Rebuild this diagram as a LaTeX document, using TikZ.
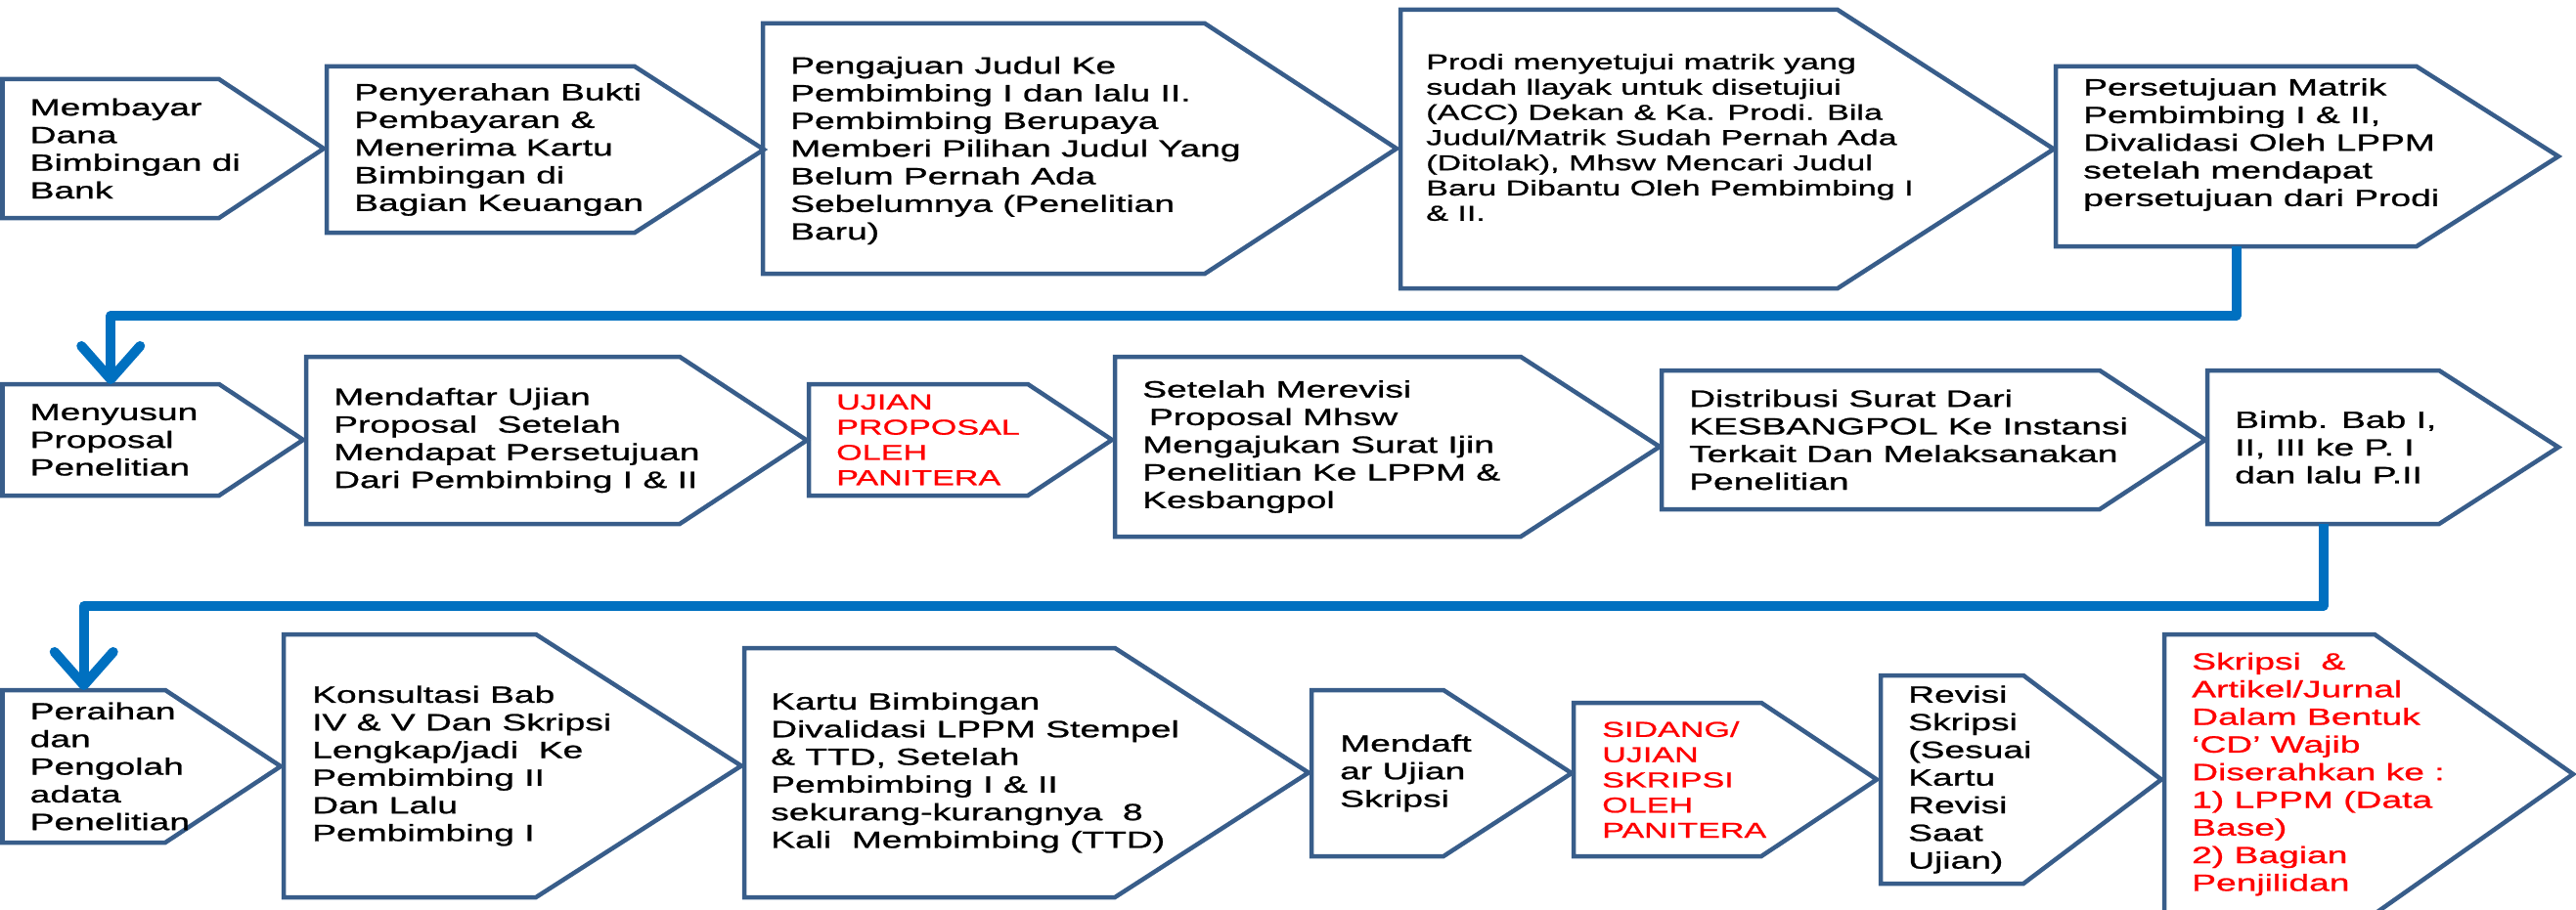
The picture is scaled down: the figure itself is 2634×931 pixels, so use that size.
\documentclass[tikz,border=0pt]{standalone}
\usepackage{fontspec}
\setmainfont{Liberation Sans}[FakeStretch=1.55, FakeBold=1]
\usepackage{tikz}
\usetikzlibrary{arrows.meta}
\definecolor{edgeblue}{RGB}{56,93,138}
\definecolor{flowblue}{RGB}{0,112,192}
\tikzset{>={Straight Barb[length=34pt,width=60pt,round]}}
\tikzset{
  body/.style={inner sep=0pt, outer sep=0pt},
  outline/.style={draw=edgeblue, line width=4.5pt, line join=miter},
  txt/.style={inner sep=0pt, align=left, font=\fontsize{24}{28.3}\selectfont},
  smalltxt/.style={txt, font=\fontsize{22}{25.8}\selectfont},
  redtxt/.style={text={rgb,255:red,255;green,0;blue,0}},
  flow/.style={draw=flowblue, line width=10pt, line join=round, ->}
}

\begin{document}
\begin{tikzpicture}[x=1pt, y=-1pt]
  \useasboundingbox (0,0) rectangle (2634,931);

  % name, left, top, bottom, notch, tip
  \newcommand\Chev[6]{%
    \node[body, anchor=north west, minimum width={(#5-#2)*1pt},
      minimum height={(#4-#3)*1pt}] (#1) at (#2,#3) {};
    \draw[outline] (#1.north west) -- (#1.north east) -- (#6,{(#3+#4)/2})
      -- (#1.south east) -- (#1.south west) -- cycle;
  }

  % row 1
  \Chev{s1}{2.5}{81}{223}{224}{331}
  \Chev{s2}{334}{68}{238}{649}{781}
  \Chev{s3}{780}{24}{280}{1232}{1428}
  \Chev{s4}{1432}{10}{295}{1879}{2100}
  \Chev{s5}{2102}{68}{252}{2471}{2616}

  \node[txt, anchor=west] (t1) at ([xshift=28pt]s1.west)
    {Membayar\\Dana\\Bimbingan di\\Bank};
  \node[txt, anchor=west] (t2) at ([xshift=28pt]s2.west)
    {Penyerahan Bukti\\Pembayaran \&\\Menerima Kartu\\Bimbingan di\\Bagian Keuangan};
  \node[txt, anchor=west] (t3) at ([xshift=28pt, yshift=-2pt]s3.west)
    {Pengajuan Judul Ke\\Pembimbing I dan lalu II.\\Pembimbing Berupaya\\Memberi Pilihan Judul Yang\\Belum Pernah Ada\\Sebelumnya (Penelitian\\Baru)};
  \node[smalltxt, anchor=west] (t4) at ([xshift=26pt, yshift=12pt]s4.west)
    {Prodi menyetujui matrik yang\\sudah llayak untuk disetujiui\\(ACC) Dekan \& Ka. Prodi. Bila\\Judul/Matrik Sudah Pernah Ada\\(Ditolak), Mhsw Mencari Judul\\Baru Dibantu Oleh Pembimbing I\\\& II.};
  \node[txt, anchor=west] (t5) at ([xshift=28pt, yshift=12pt]s5.west)
    {Persetujuan Matrik\\Pembimbing I \& II,\\Divalidasi Oleh LPPM\\setelah mendapat\\persetujuan dari Prodi};

  % row 2
  \Chev{s6}{2.5}{393}{507}{224}{310}
  \Chev{s7}{313}{365}{536}{695}{825}
  \Chev{s8}{827}{393}{507}{1051}{1137}
  \Chev{s9}{1140}{365}{549}{1555}{1697}
  \Chev{s10}{1699}{379}{521}{2147}{2255}
  \Chev{s11}{2257}{379}{536}{2494}{2616}

  \node[txt, anchor=west] (t6) at ([xshift=28pt]s6.west)
    {Menyusun\\Proposal\\Penelitian};
  \node[txt, anchor=west] (t7) at ([xshift=28pt]s7.west)
    {Mendaftar Ujian\\Proposal~ Setelah\\Mendapat Persetujuan\\Dari Pembimbing I \& II};
  \node[smalltxt, redtxt, anchor=west] (t8) at ([xshift=28pt]s8.west)
    {UJIAN\\PROPOSAL\\OLEH\\PANITERA};
  \node[txt, anchor=west] (t9) at ([xshift=28pt]s9.west)
    {Setelah Merevisi\\\hspace*{0.28em}Proposal Mhsw\\Mengajukan Surat Ijin\\Penelitian Ke LPPM \&\\Kesbangpol};
  \node[txt, anchor=west] (t10) at ([xshift=28pt]s10.west)
    {Distribusi Surat Dari\\KESBANGPOL Ke Instansi\\Terkait Dan Melaksanakan\\Penelitian};
  \node[txt, anchor=west] (t11) at ([xshift=28pt]s11.west)
    {Bimb. Bab I,\\II, III ke P. I\\dan lalu P.II};

  % row 3
  \Chev{s12}{2.5}{706}{862}{169}{287}
  \Chev{s13}{290}{649}{918}{548}{758}
  \Chev{s14}{761}{663}{918}{1140}{1338}
  \Chev{s15}{1341}{706}{876}{1476}{1607}
  \Chev{s16}{1609}{719}{876}{1801}{1919}
  \Chev{s17}{1923}{691}{904}{2069}{2210}
  \Chev{s18}{2213}{649}{935}{2428}{2631}

  \node[txt, anchor=west] (t12) at ([xshift=28pt]s12.west)
    {Peraihan\\dan\\Pengolah\\adata\\Penelitian};
  \node[txt, anchor=west] (t13) at ([xshift=29pt]s13.west)
    {Konsultasi Bab\\IV \& V Dan Skripsi\\Lengkap/jadi~ Ke\\Pembimbing II\\Dan Lalu\\Pembimbing I};
  \node[txt, anchor=west] (t14) at ([xshift=27pt]s14.west)
    {Kartu Bimbingan\\Divalidasi LPPM Stempel\\\& TTD, Setelah\\Pembimbing I \& II\\sekurang-kurangnya~ 8\\Kali~ Membimbing (TTD)};
  \node[txt, anchor=west] (t15) at ([xshift=29pt]s15.west)
    {Mendaft\\ar Ujian\\Skripsi};
  \node[smalltxt, redtxt, anchor=west] (t16) at ([xshift=29pt]s16.west)
    {SIDANG/\\UJIAN\\SKRIPSI\\OLEH\\PANITERA};
  \node[txt, anchor=west] (t17) at ([xshift=28pt]s17.west)
    {Revisi\\Skripsi\\(Sesuai\\Kartu\\Revisi\\Saat\\Ujian)};
  \node[txt, redtxt, anchor=west] (t18) at ([xshift=28pt]s18.west)
    {Skripsi~ \&\\Artikel/Jurnal\\Dalam Bentuk\\‘CD’ Wajib\\Diserahkan ke :\\1) LPPM (Data\\Base)\\2) Bagian\\Penjilidan};

  % connectors between rows
  \coordinate (k1) at (0,323);
  \coordinate (k2) at (0,620);
  \draw[flow] (s5.south) -- (s5.south |- k1) -| (s6.north); %% row 1 -> row 2
  \draw[flow] (s11.south) -- (s11.south |- k2) -| (s12.north); %% row 2 -> row 3

\end{tikzpicture}
\end{document}
